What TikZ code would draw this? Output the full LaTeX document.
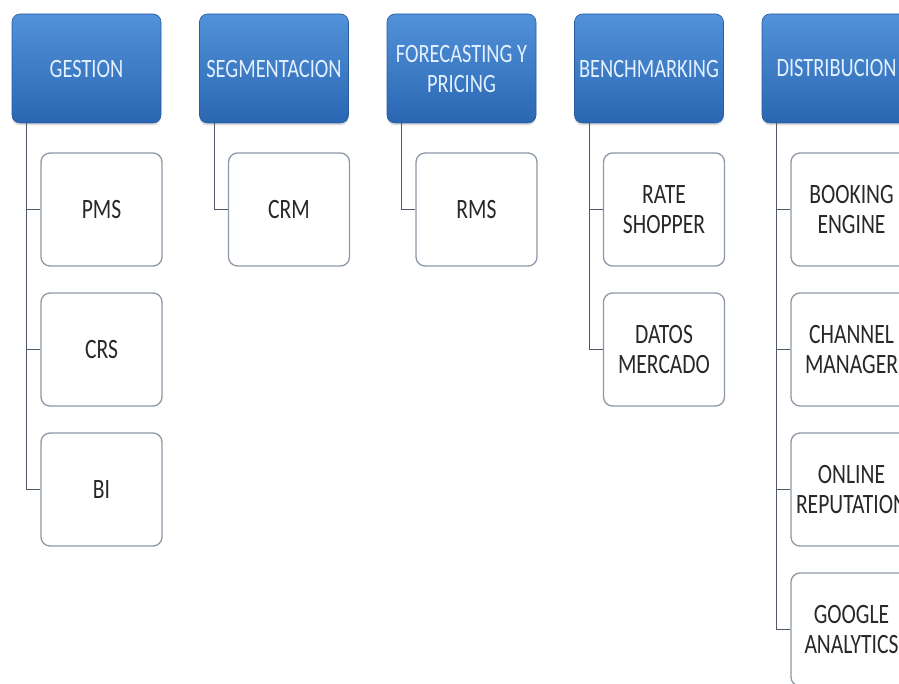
\documentclass[tikz,border=0pt]{standalone}
\usepackage{fontspec}
\setmainfont{Carlito}[FakeStretch=0.77]
\usepackage{tikz}
\usetikzlibrary{shadows}
\definecolor{headtop}{RGB}{82,146,218}
\definecolor{headbot}{RGB}{42,102,178}
\definecolor{headtxt}{RGB}{226,240,255}
\definecolor{itemline}{RGB}{140,152,166}
\definecolor{itemtxt}{RGB}{40,40,40}
\definecolor{treecol}{RGB}{80,90,104}

\begin{document}
\begin{tikzpicture}[
  x=1pt, y=1pt,
  head/.style={rounded corners=8pt, top color=headtop, bottom color=headbot,
               draw=headbot!90!black, line width=0.6pt,
               drop shadow={opacity=0.25, shadow xshift=0pt, shadow yshift=-2.5pt},
               minimum width=149pt, minimum height=109pt, inner sep=0pt,
               align=center, text=headtxt, font=\fontsize{26.5}{30}\selectfont},
  item/.style={draw=itemline, fill=white, rounded corners=9pt, line width=1.3pt,
               minimum width=121pt, minimum height=113pt, inner sep=0pt,
               align=center, text=itemtxt, font=\fontsize{28}{30}\selectfont},
  link/.style={treecol, line width=1.4pt}
]
  \useasboundingbox (0,0) rectangle (899,-684);
  \clip (0,0) rectangle (899,-684);

  % column headers
  \node[head] (g) at (86.5,-68.5)  {GESTION};
  \node[head] (s) at (274,-68.5)   {SEGMENTACION};
  \node[head] (f) at (461.5,-68.5) {FORECASTING Y\\PRICING};
  \node[head] (b) at (649,-68.5)   {BENCHMARKING};
  \node[head] (d) at (836.5,-68.5) {DISTRIBUCION};

  % tools under each header
  \node[item] (g1) at (101.5,-209.5) {PMS};
  \node[item] (g2) at (101.5,-349.5) {CRS};
  \node[item] (g3) at (101.5,-489.5) {BI};

  \node[item] (s1) at (289,-209.5) {CRM};

  \node[item] (f1) at (476.5,-209.5) {RMS};

  \node[item] (b1) at (664,-209.5) {RATE\\SHOPPER};
  \node[item] (b2) at (664,-349.5) {DATOS\\MERCADO};

  \node[item] (d1) at (851.5,-209.5) {BOOKING\\ENGINE};
  \node[item] (d2) at (851.5,-349.5) {CHANNEL\\MANAGER};
  \node[item] (d3) at (851.5,-489.5) {ONLINE\\REPUTATION};
  \node[item] (d4) at (851.5,-629.5) {GOOGLE\\ANALYTICS};

  % tree connectors
  \draw[link] ([xshift=15pt]g.south west) |- (g1.west);
  \draw[link] ([xshift=15pt]g.south west) |- (g2.west);
  \draw[link] ([xshift=15pt]g.south west) |- (g3.west);
  \draw[link] ([xshift=15pt]s.south west) |- (s1.west);
  \draw[link] ([xshift=15pt]f.south west) |- (f1.west);
  \draw[link] ([xshift=15pt]b.south west) |- (b1.west);
  \draw[link] ([xshift=15pt]b.south west) |- (b2.west);
  \draw[link] ([xshift=15pt]d.south west) |- (d1.west);
  \draw[link] ([xshift=15pt]d.south west) |- (d2.west);
  \draw[link] ([xshift=15pt]d.south west) |- (d3.west);
  \draw[link] ([xshift=15pt]d.south west) |- (d4.west);
\end{tikzpicture}
\end{document}
